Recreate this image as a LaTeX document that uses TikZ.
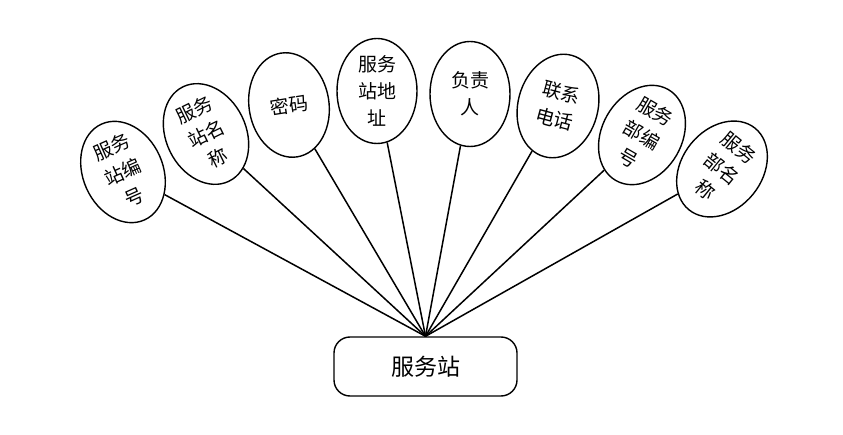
\documentclass[tikz,border=0pt]{standalone}
\usepackage{fontspec}
\setmainfont{Noto Sans CJK SC}
\usepackage{tikz}
\usetikzlibrary{shapes.geometric}

\begin{document}
\begin{tikzpicture}[x=1pt, y=1pt,
  attr/.style={draw, ellipse, line width=1.4pt, inner sep=0pt,
    minimum width=80pt, minimum height=105pt, align=center,
    font=\fontsize{19}{27}\selectfont},
  ent/.style={draw, rectangle, rounded corners=16pt, line width=1.4pt,
    minimum width=183pt, minimum height=59pt, font=\fontsize{23}{28}\selectfont},
  link/.style={line width=1.5pt, color=black}]

\useasboundingbox (0,0) rectangle (843,434);

\node[ent] (fwz) at (425.5,67.5) {服务站};

\node[attr, rotate=24] (bh) at (123,262) {服务\\站编\\号};
\node[attr, rotate=26] (mc) at (206,300) {服务\\站名\\称};
\node[attr, rotate=9] (mm) at (289,329) {密码};
\node[attr] (dz) at (377,343) {服务\\站地\\址};
\node[attr] (fzr) at (470,340) {负责\\人};
\node[attr, rotate=-15] (dh) at (558,328) {联系\\电话};
\node[attr, rotate=-30] (bbh) at (642,299) {服务\\部编\\号};
\node[attr, rotate=-39] (bmc) at (722,265) {服务\\部名\\称};

\draw[link] (fwz.north) -- (bh);
\draw[link] (fwz.north) -- (mc);
\draw[link] (fwz.north) -- (mm);
\draw[link] (fwz.north) -- (dz);
\draw[link] (fwz.north) -- (fzr);
\draw[link] (fwz.north) -- (dh);
\draw[link] (fwz.north) -- (bbh);
\draw[link] (fwz.north) -- (bmc);

\end{tikzpicture}
\end{document}
